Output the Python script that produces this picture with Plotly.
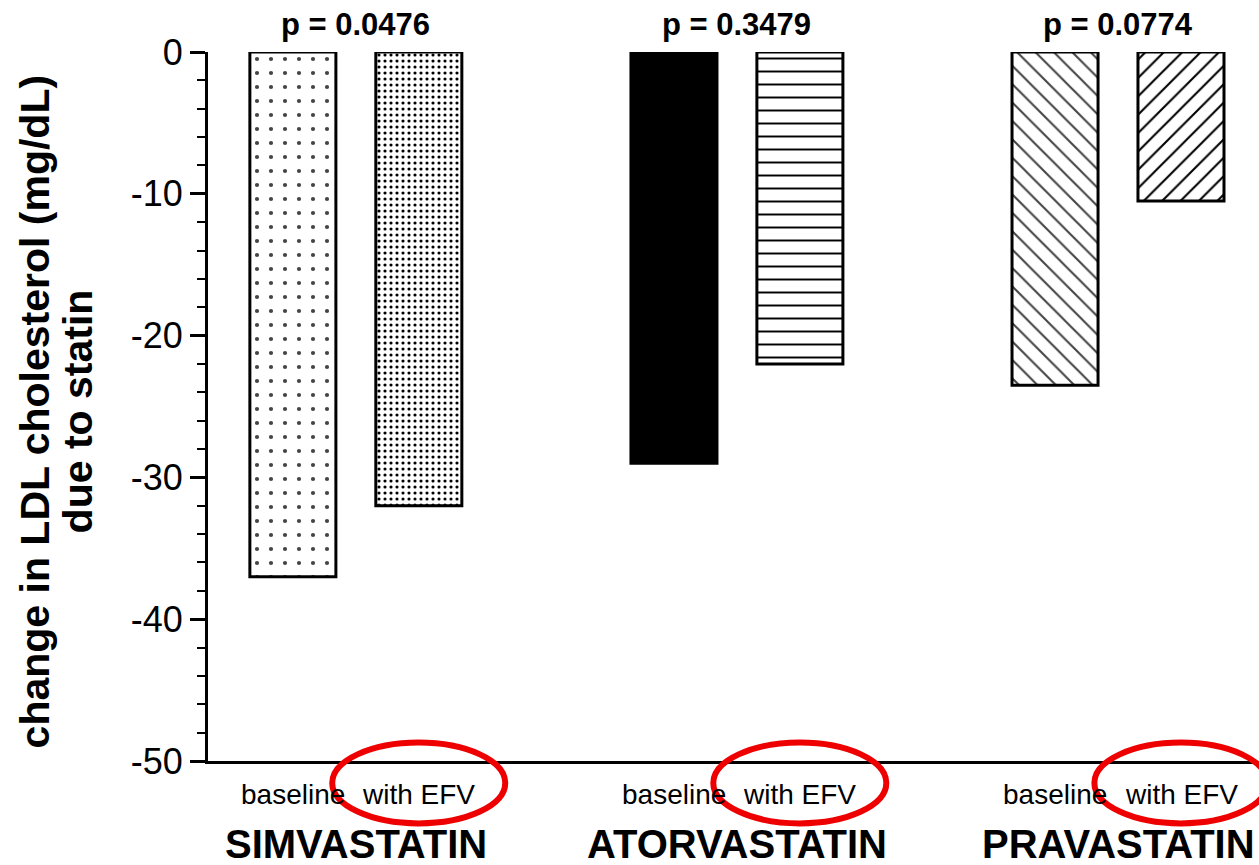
import plotly.graph_objects as go

drugs = ["SIMVASTATIN", "ATORVASTATIN", "PRAVASTATIN"]
baseline = [-37.0, -29.0, -23.5]
with_efv = [-32.0, -22.0, -10.5]
p_values = ["p = 0.0476", "p = 0.3479", "p = 0.0774"]
sub_labels = ["baseline", "with EFV"]
y_tickvals = [0, -10, -20, -30, -40, -50]
y_ticktext = ["0", "-10", "-20", "-30", "-40", "-50"]
y_title_lines = ["change in LDL cholesterol (mg/dL)", "due to statin"]

FONT = "Arial, Liberation Sans, sans-serif"

fig = go.Figure()
fig.add_trace(go.Bar(
    x=drugs, y=baseline, name="baseline",
    marker=dict(
        color=["white", "black", "white"],
        line=dict(color="black", width=3),
        pattern=dict(shape=[".", "", "\\"], size=[14, 10, 13],
                     solidity=[0.07, 0.3, 0.16], fgcolor="black", fgopacity=1,
                     bgcolor=["white", "black", "white"]),
    ),
))
fig.add_trace(go.Bar(
    x=drugs, y=with_efv, name="with EFV",
    marker=dict(
        color="white",
        line=dict(color="black", width=3),
        pattern=dict(shape=[".", "-", "/"], size=[6, 13, 13],
                     solidity=[0.22, 0.15, 0.16], fgcolor="black", fgopacity=1,
                     bgcolor="white"),
    ),
))

annotations = []
for i, d in enumerate(drugs):
    annotations.append(dict(x=d, xref="x", y=1, yref="paper", text=p_values[i],
                            showarrow=False, yanchor="bottom", yshift=8,
                            font=dict(family=FONT, size=31, color="black", weight="bold")))
    annotations.append(dict(x=d, xref="x", y=0, yref="paper", text=sub_labels[0],
                            showarrow=False, yanchor="middle", xshift=-63, yshift=-33,
                            font=dict(family=FONT, size=28, color="black")))
    annotations.append(dict(x=d, xref="x", y=0, yref="paper", text=sub_labels[1],
                            showarrow=False, yanchor="middle", xshift=63, yshift=-33,
                            font=dict(family=FONT, size=28, color="black")))
    annotations.append(dict(x=d, xref="x", y=0, yref="paper", text=d,
                            showarrow=False, yanchor="middle", yshift=-83,
                            font=dict(family=FONT, size=40, color="black", weight="bold")))
for j, (line, xp) in enumerate(zip(y_title_lines, [-0.1637, -0.1228])):
    annotations.append(dict(x=xp, xref="paper", y=0.493, yref="paper", text=line,
                            textangle=-90, showarrow=False, xanchor="center", yanchor="middle",
                            font=dict(family=FONT, size=41, color="black", weight="bold")))

shapes = []
for i in range(len(drugs)):
    shapes.append(dict(type="circle", xref="x", yref="paper",
                       x0=i - 0.062, x1=i + 0.392, y0=-0.088, y1=0.026,
                       line=dict(color="#ee0000", width=6)))

fig.update_layout(
    width=1259, height=865,
    margin=dict(l=208, r=0, t=52, b=104),
    plot_bgcolor="white", paper_bgcolor="white",
    barmode="group", bargap=0.339, bargroupgap=0.317,
    showlegend=False,
    annotations=annotations, shapes=shapes,
    xaxis=dict(range=[-0.388, 2.37], showticklabels=False, ticks="",
               showline=True, linecolor="black", linewidth=3,
               showgrid=False, zeroline=False, fixedrange=True),
    yaxis=dict(range=[-50, 0], tickvals=y_tickvals, ticktext=y_ticktext,
               ticks="outside", ticklen=15, tickwidth=3, tickcolor="black",
               showline=True, linecolor="black", linewidth=3,
               showgrid=False, zeroline=False,
               tickfont=dict(family=FONT, size=36, color="black"),
               minor=dict(dtick=2, ticks="outside", ticklen=8, tickwidth=2,
                          tickcolor="black", showgrid=False)),
)
fig.write_html("out.html")
